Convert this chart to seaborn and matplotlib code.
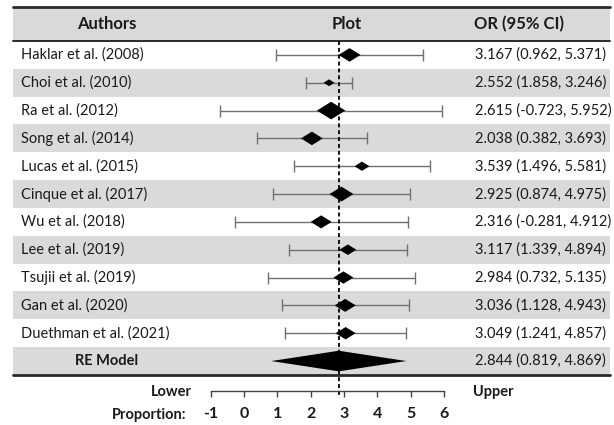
import numpy as np
import pandas as pd
import matplotlib
matplotlib.use("Agg")
import matplotlib.pyplot as plt
import seaborn as sns

# ---------------- data ----------------
authors = ["Haklar et al. (2008)", "Choi et al. (2010)", "Ra et al. (2012)",
           "Song et al. (2014)", "Lucas et al. (2015)", "Cinque et al. (2017)",
           "Wu et al. (2018)", "Lee et al. (2019)", "Tsujii et al. (2019)",
           "Gan et al. (2020)", "Duethman et al. (2021)"]
or_est = [3.167, 2.552, 2.615, 2.038, 3.539, 2.925, 2.316, 3.117, 2.984, 3.036, 3.049]
ci_low = [0.962, 1.858, -0.723, 0.382, 1.496, 0.874, -0.281, 1.339, 0.732, 1.128, 1.241]
ci_high = [5.371, 3.246, 5.952, 3.693, 5.581, 4.975, 4.912, 4.894, 5.135, 4.943, 4.857]
weights = [10.4, 2.6, 17.5, 10.4, 4.8, 12.4, 9.5, 6.2, 8.6, 9.5, 8.6]
re_label = "RE Model"
re_est, re_low, re_high = 2.844, 0.819, 4.869
scale_ticks = [-1, 0, 1, 2, 3, 4, 5, 6]
col_headers = ["Authors", "Plot", "OR (95% CI)"]

# ---------------- setup ----------------
sns.set_theme(style="white")
plt.rcParams["font.family"] = ["Lato", "DejaVu Sans"]
TXT = "#1a1a1a"

W, H = 614, 425
fig = plt.figure(figsize=(W / 100, H / 100), dpi=100)
ax = fig.add_axes([0, 0, 1, 1])

px_per_unit = 33.36
x0_px = 243.9
row_h = 27.83
row0_px = 41 + row_h / 2


def ypx(p):
    return (p - row0_px) / row_h


ax.set_xlim(-x0_px / px_per_unit, (W - x0_px) / px_per_unit)
ax.set_ylim(ypx(H), ypx(0))
ax.axis("off")

n = len(authors)
rows = np.arange(n)
re_row = n

df = pd.DataFrame({"author": authors, "est": or_est, "lo": ci_low,
                   "hi": ci_high, "w": weights, "row": rows})

xl, xr = 13 / W, 610 / W
# header band and stripes
ax.axhspan(ypx(7), -0.5, xmin=xl, xmax=xr, color="#d9d9d9", lw=0, zorder=0)
for r in range(1, n + 1, 2):
    ax.axhspan(r - 0.5, r + 0.5, xmin=xl, xmax=xr, color="#dadada", lw=0, zorder=0)
ax.axhline(ypx(7), xl, xr, color="#2a2a2a", lw=2.0, zorder=3)
ax.axhline(-0.5, xl, xr, color="#2a2a2a", lw=1.4, zorder=3)
ax.axhline(re_row + 0.5, xl, xr, color="#2a2a2a", lw=2.0, zorder=3)

# whiskers
ax.errorbar(df["est"], df["row"], xerr=[df["est"] - df["lo"], df["hi"] - df["est"]],
            fmt="none", ecolor="#707070", elinewidth=1.0, capsize=4, capthick=1.0,
            zorder=2)

# diamonds
diamond = [(-1, 0), (0, 0.62), (1, 0), (0, -0.62), (-1, 0)]
k = 24.0
sns.scatterplot(data=df, x="est", y="row", size="w",
                sizes=(min(weights) * k, max(weights) * k),
                size_norm=(min(weights), max(weights)),
                marker=diamond, color="black", linewidth=0, legend=False,
                ax=ax, zorder=4)

# summary diamond
hh = 0.37
ax.fill([re_low, re_est, re_high, re_est], [re_row, re_row - hh, re_row, re_row + hh],
        color="black", lw=0, zorder=4)

# reference line
ax.vlines(re_est, -0.5, ypx(397), colors="black", linestyles=(0, (2.2, 1.6)),
          lw=1.3, zorder=5)

# text columns
trans = ax.get_yaxis_transform()
hdr_y = ypx(24)
ax.text(107 / W, hdr_y, col_headers[0], transform=trans, ha="center", va="center",
        fontsize=12, fontweight="bold", color=TXT)
ax.text(347 / W, hdr_y, col_headers[1], transform=trans, ha="center", va="center",
        fontsize=12, fontweight="bold", color=TXT)
ax.text(474 / W, hdr_y, col_headers[2], transform=trans, ha="left", va="center",
        fontsize=12, fontweight="bold", color=TXT)

fs = 10.5
for r, a, e, lo, hi in zip(rows, authors, or_est, ci_low, ci_high):
    ax.text(21 / W, r, a, transform=trans, ha="left", va="center",
            fontsize=fs, color=TXT)
    ax.text(475 / W, r, f"{e:.3f} ({lo:.3f}, {hi:.3f})", transform=trans,
            ha="left", va="center", fontsize=fs, color=TXT)
ax.text(107 / W, re_row, re_label, transform=trans, ha="center", va="center",
        fontsize=fs, fontweight="bold", color=TXT)
ax.text(475 / W, re_row, f"{re_est:.3f} ({re_low:.3f}, {re_high:.3f})",
        transform=trans, ha="left", va="center", fontsize=fs, color=TXT)

ax.text(192 / W, ypx(392), "Lower", transform=trans, ha="right", va="center",
        fontsize=fs, fontweight="bold", color=TXT)
ax.text(473 / W, ypx(392), "Upper", transform=trans, ha="left", va="center",
        fontsize=fs, fontweight="bold", color=TXT)
ax.text(186 / W, ypx(415), "Proportion:", transform=trans, ha="right", va="center",
        fontsize=fs, fontweight="bold", color=TXT)

# bottom scale axis
ax2 = fig.add_axes([0, (H - 391) / H, 1, 0.0005], sharex=ax)
ax2.patch.set_visible(False)
for s in ["top", "left", "right"]:
    ax2.spines[s].set_visible(False)
ax2.spines["bottom"].set_bounds(scale_ticks[0], scale_ticks[-1])
ax2.spines["bottom"].set_color("#444444")
ax2.spines["bottom"].set_linewidth(1.0)
ax2.set_xticks(scale_ticks)
ax2.set_xticklabels([str(t) for t in scale_ticks], fontweight="bold", fontsize=11.5,
                    color=TXT)
ax2.tick_params(axis="x", direction="out", length=4.5, width=1.0, color="#444444",
                pad=7, bottom=True)
ax2.set_yticks([])
ax2.set_xlim(ax.get_xlim())

fig.savefig("out.png", dpi=100)
